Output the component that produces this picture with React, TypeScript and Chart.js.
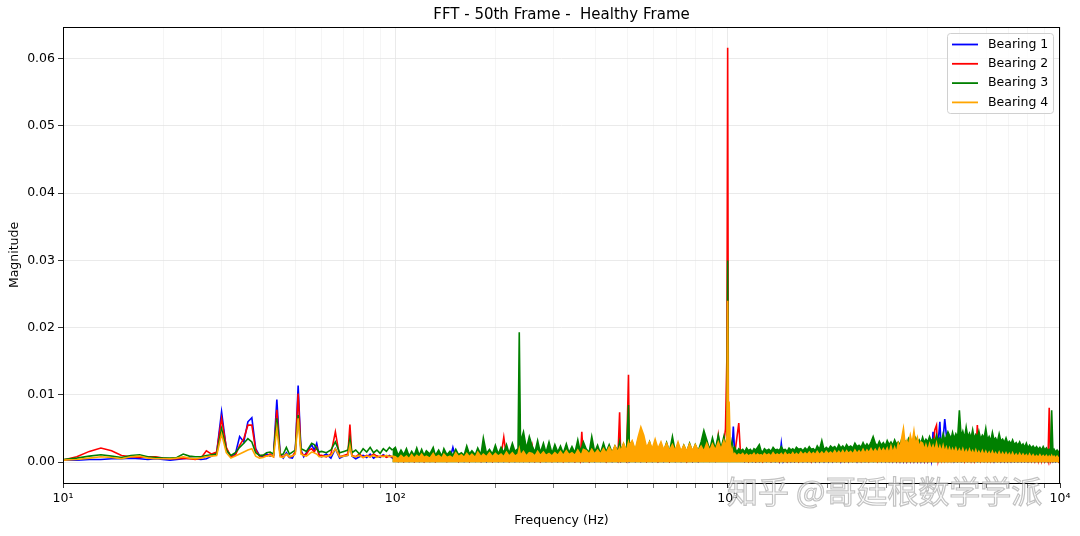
import React, { useEffect, useRef } from 'react';
import Chart from 'chart.js/auto';

// frequency bins (Hz), rows match the value arrays below
const freqHz = [
  // 10 - 100 Hz
  10, 11, 12, 13, 14, 15, 16, 17, 18, 19,
  20, 21, 22, 23, 24, 25, 26, 27, 28, 29,
  30, 31, 32, 33, 34, 35, 36, 37, 38, 39,
  40, 41, 42, 43, 44, 45, 46, 47, 48, 49,
  50, 51, 52, 53, 54, 55, 56, 57, 58, 59,
  60, 62, 64, 66, 68, 70, 72, 73, 74, 76,
  78, 80, 82, 84, 86, 88, 90, 92, 94, 96,
  98,
  // 100 - 1000 Hz
  100, 102, 104, 106, 108, 110, 112, 114, 116, 118,
  120, 122, 124, 127, 130, 132, 135, 138, 140, 143,
  146, 149, 152, 155, 158, 161, 164, 167, 170, 174,
  177, 181, 184, 188, 192, 196, 200, 204, 208, 212,
  216, 220, 225, 229, 234, 236, 238, 243, 248, 253,
  258, 263, 268, 273, 279, 284, 290, 296, 302, 308,
  314, 320, 327, 333, 340, 347, 354, 360, 364, 368,
  375, 383, 390, 398, 406, 414, 423, 431, 440, 449,
  458, 467, 473, 477, 486, 496, 503, 506, 516, 527,
  537, 548, 559, 570, 582, 593, 605, 617, 630, 642,
  655, 668, 682, 695, 709, 724, 738, 753, 768, 784,
  799, 815, 832, 848, 865, 883, 900, 918, 937, 955,
  974, 985, 995, 1000, 1005,
  // 1 - 10 kHz
  1010, 1020, 1030, 1040, 1050, 1065, 1080, 1095, 1110, 1125,
  1140, 1155, 1170, 1185, 1200, 1215, 1230, 1245, 1260, 1275,
  1290, 1310, 1330, 1350, 1370, 1390, 1410, 1430, 1450, 1470,
  1490, 1510, 1530, 1550, 1570, 1590, 1610, 1635, 1660, 1685,
  1710, 1735, 1760, 1785, 1810, 1835, 1860, 1890, 1920, 1950,
  1980, 2010, 2040, 2070, 2100, 2130, 2160, 2190, 2220, 2250,
  2280, 2310, 2345, 2380, 2415, 2450, 2485, 2520, 2555, 2590,
  2625, 2660, 2700, 2740, 2780, 2820, 2860, 2900, 2940, 2980,
  3020, 3060, 3100, 3140, 3180, 3220, 3260, 3300, 3340, 3380,
  3420, 3460, 3500, 3545, 3590, 3635, 3680, 3725, 3770, 3815,
  3860, 3905, 3950, 4000, 4050, 4100, 4150, 4200, 4250, 4300,
  4350, 4400, 4450, 4500, 4550, 4600, 4650, 4700, 4750, 4800,
  4860, 4920, 4980, 5040, 5100, 5160, 5220, 5280, 5340, 5400,
  5460, 5520, 5580, 5640, 5700, 5770, 5840, 5910, 5980, 6050,
  6120, 6190, 6260, 6330, 6400, 6480, 6560, 6640, 6720, 6800,
  6880, 6960, 7040, 7120, 7200, 7290, 7380, 7470, 7560, 7650,
  7740, 7830, 7920, 8010, 8100, 8200, 8300, 8400, 8500, 8600,
  8700, 8800, 8900, 9000, 9100, 9200, 9280, 9360, 9440, 9520,
  9600, 9700, 9800, 9900, 10000,
];

// magnitudes, in units of 1e-4
const bearing1 = [
  3, 3, 4, 4, 5, 5, 6, 5, 4, 5,
  4, 3, 4, 5, 6, 5, 4, 5, 9, 14,
  75, 20, 8, 12, 38, 30, 60, 66, 20, 10,
  8, 12, 9, 10, 93, 12, 6, 14, 7, 6,
  15, 114, 18, 8, 14, 20, 26, 18, 28, 10,
  8, 12, 6, 20, 6, 9, 10, 30, 9, 5,
  8, 10, 7, 12, 6, 9, 7, 11, 8, 10,
  6,
  4, 1, 5, 1, 6, 1, 5, 1, 6, 1,
  5, 1, 6, 1, 5, 1, 5, 2, 6, 1,
  5, 22, 6, 1, 5, 1, 6, 1, 5, 1,
  6, 1, 7, 1, 15, 1, 6, 1, 5, 1,
  6, 1, 5, 1, 6, 2, 5, 1, 6, 1,
  5, 1, 6, 1, 5, 1, 6, 1, 5, 1,
  6, 1, 5, 1, 6, 1, 5, 1, 6, 1,
  5, 1, 6, 1, 5, 1, 6, 1, 5, 1,
  6, 1, 5, 1, 6, 1, 10, 1, 5, 1,
  6, 1, 5, 1, 6, 1, 5, 1, 6, 1,
  5, 1, 6, 1, 7, 1, 6, 1, 8, 1,
  7, 1, 8, 2, 9, 2, 10, 2, 12, 3,
  15, 18, 30, 50, 40,
  20, 10, 15, 53, 12, 8, 7, 2, 6, 1,
  6, 1, 5, 1, 7, 1, 6, 1, 5, 1,
  6, 1, 5, 1, 7, 1, 6, 1, 28, 1,
  6, 1, 7, 1, 6, 1, 7, 1, 8, 1,
  7, 1, 8, 1, 7, 1, 8, 1, 9, 1,
  8, 1, 9, 1, 8, 2, 9, 1, 10, 2,
  9, 1, 10, 2, 9, 1, 10, 2, 11, 2,
  10, 2, 11, 2, 10, 2, 11, 2, 12, 2,
  11, 2, 12, 2, 11, 2, 12, 2, 13, 2,
  12, 2, 13, 2, 12, 2, 13, 2, 12, 2,
  13, 2, 12, 2, 14, 2, 45, 10, 12, 30,
  60, 12, 35, 64, 40, 12, 40, 10, 12, 2,
  10, 2, 9, 2, 10, 2, 9, 2, 8, 2,
  9, 2, 8, 2, 9, 2, 8, 2, 7, 2,
  8, 2, 7, 1, 8, 2, 7, 1, 7, 1,
  7, 1, 6, 1, 7, 1, 6, 1, 6, 1,
  6, 1, 6, 1, 5, 1, 6, 1, 5, 1,
  5, 1, 6, 1, 5, 1, 5, 1, 5, 1,
  5, 1, 5, 1, 5,
];

const bearing2 = [
  3, 8, 16, 21, 17, 10, 8, 7, 8, 8,
  6, 5, 5, 6, 5, 4, 6, 17, 12, 15,
  65, 22, 8, 10, 25, 35, 55, 55, 18, 9,
  10, 9, 12, 8, 78, 10, 8, 12, 8, 9,
  15, 102, 15, 10, 12, 18, 20, 15, 22, 10,
  10, 8, 12, 45, 8, 10, 12, 56, 10, 8,
  12, 7, 10, 8, 12, 9, 8, 10, 7, 9,
  8,
  6, 1, 8, 1, 7, 2, 9, 1, 8, 2,
  7, 1, 8, 2, 18, 1, 7, 2, 9, 1,
  6, 2, 9, 1, 8, 2, 7, 1, 9, 2,
  6, 1, 8, 2, 7, 1, 9, 2, 10, 37,
  7, 1, 10, 2, 8, 3, 9, 2, 12, 3,
  25, 2, 10, 1, 9, 2, 8, 1, 9, 2,
  10, 1, 9, 2, 8, 1, 10, 2, 45, 3,
  9, 1, 10, 2, 8, 2, 11, 1, 10, 2,
  9, 2, 74, 3, 10, 2, 130, 12, 9, 2,
  11, 2, 10, 1, 9, 2, 10, 1, 8, 2,
  10, 1, 9, 2, 11, 2, 10, 1, 12, 2,
  11, 2, 12, 3, 14, 3, 16, 4, 40, 8,
  30, 49, 160, 616, 45,
  30, 14, 18, 20, 12, 35, 58, 6, 9, 2,
  7, 1, 6, 2, 7, 1, 6, 2, 7, 1,
  6, 2, 7, 1, 8, 2, 7, 1, 8, 2,
  8, 1, 8, 2, 8, 2, 9, 1, 9, 2,
  9, 2, 9, 1, 9, 2, 10, 2, 9, 2,
  10, 2, 9, 2, 10, 2, 10, 2, 11, 2,
  11, 2, 10, 2, 11, 2, 11, 2, 12, 3,
  12, 2, 12, 3, 12, 2, 13, 3, 12, 3,
  14, 3, 13, 3, 15, 3, 15, 3, 14, 3,
  15, 3, 14, 3, 16, 3, 15, 3, 14, 3,
  15, 3, 16, 3, 15, 3, 14, 48, 55, 3,
  15, 3, 14, 3, 13, 3, 13, 3, 13, 3,
  13, 3, 12, 3, 13, 2, 12, 3, 12, 2,
  11, 2, 12, 55, 11, 2, 11, 2, 10, 2,
  10, 2, 11, 2, 9, 2, 10, 2, 9, 2,
  9, 2, 9, 2, 9, 2, 8, 2, 9, 2,
  8, 2, 9, 2, 10, 2, 12, 2, 14, 2,
  16, 2, 14, 2, 10, 2, 81, 2, 8, 2,
  7, 2, 6, 1, 6,
];

const bearing3 = [
  4, 6, 9, 11, 9, 7, 10, 11, 8, 7,
  6, 6, 7, 12, 9, 8, 8, 10, 11, 12,
  50, 18, 10, 14, 22, 28, 35, 30, 14, 10,
  10, 14, 15, 12, 65, 11, 12, 22, 12, 15,
  18, 70, 20, 18, 16, 22, 28, 26, 20, 15,
  16, 14, 18, 30, 14, 16, 18, 35, 14, 18,
  12, 20, 15, 22, 14, 18, 13, 20, 16, 22,
  18,
  22, 10, 18, 11, 20, 9, 16, 10, 21, 10,
  19, 10, 17, 12, 22, 10, 18, 9, 20, 11,
  16, 10, 19, 11, 14, 10, 24, 12, 17, 11,
  21, 11, 36, 13, 19, 12, 25, 12, 22, 14,
  26, 13, 28, 16, 20, 193, 30, 45, 20, 38,
  24, 15, 32, 14, 28, 14, 30, 13, 26, 15,
  24, 13, 27, 14, 23, 14, 33, 16, 22, 30,
  20, 14, 38, 15, 25, 13, 28, 15, 26, 14,
  24, 16, 30, 17, 27, 15, 85, 26, 30, 16,
  32, 20, 28, 16, 30, 15, 26, 14, 27, 16,
  29, 15, 38, 16, 27, 14, 25, 15, 28, 15,
  26, 16, 30, 47, 33, 18, 36, 19, 40, 20,
  38, 24, 35, 300, 33,
  24, 16, 30, 17, 22, 15, 20, 17, 19, 15,
  21, 17, 19, 15, 20, 18, 22, 26, 17, 15,
  20, 17, 19, 16, 22, 18, 19, 17, 23, 18,
  19, 16, 21, 18, 20, 17, 22, 19, 20, 17,
  21, 18, 23, 19, 20, 17, 24, 19, 32, 18,
  22, 19, 24, 21, 23, 19, 26, 21, 24, 20,
  26, 22, 24, 21, 28, 23, 25, 22, 29, 23,
  27, 23, 30, 38, 28, 24, 31, 25, 29, 24,
  32, 26, 30, 25, 33, 27, 30, 26, 34, 27,
  31, 27, 35, 28, 32, 27, 36, 29, 33, 28,
  37, 29, 34, 30, 38, 31, 35, 30, 40, 32,
  36, 31, 42, 33, 38, 45, 40, 34, 44, 35,
  42, 36, 77, 38, 46, 35, 52, 37, 43, 36,
  48, 35, 41, 37, 46, 34, 40, 36, 50, 33,
  38, 31, 44, 33, 36, 30, 42, 31, 34, 29,
  36, 28, 31, 27, 33, 26, 29, 25, 30, 24,
  27, 22, 28, 21, 25, 21, 24, 20, 23, 19,
  22, 18, 23, 18, 21, 17, 19, 17, 77, 16,
  19, 15, 18, 15, 17,
];

const bearing4 = [
  3, 4, 6, 8, 7, 5, 8, 9, 6, 5,
  5, 5, 6, 8, 6, 5, 6, 8, 9, 10,
  42, 14, 6, 9, 12, 15, 18, 20, 9, 6,
  7, 9, 10, 8, 50, 8, 7, 12, 8, 9,
  12, 65, 12, 10, 9, 12, 15, 14, 12, 8,
  8, 9, 10, 20, 8, 9, 10, 25, 9, 8,
  10, 7, 9, 8, 10, 7, 9, 8, 10, 8,
  9,
  8, 5, 10, 6, 9, 5, 11, 6, 10, 7,
  12, 7, 9, 6, 13, 7, 10, 6, 12, 7,
  9, 6, 14, 8, 11, 7, 13, 8, 12, 7,
  15, 8, 12, 8, 14, 8, 13, 9, 12, 8,
  15, 9, 14, 9, 12, 20, 10, 16, 9, 14,
  13, 9, 16, 10, 15, 10, 13, 9, 14, 10,
  16, 10, 17, 11, 14, 10, 18, 12, 12, 19,
  17, 12, 19, 12, 18, 12, 20, 13, 22, 14,
  24, 15, 22, 16, 28, 17, 30, 25, 32, 18,
  36, 52, 40, 22, 30, 20, 34, 20, 30, 18,
  28, 17, 26, 17, 30, 16, 25, 16, 27, 17,
  26, 17, 24, 16, 28, 17, 27, 18, 30, 19,
  32, 22, 40, 240, 35,
  90, 9, 20, 10, 13, 9, 12, 10, 13, 9,
  12, 9, 11, 10, 13, 9, 12, 10, 11, 9,
  13, 10, 12, 9, 14, 10, 12, 10, 13, 9,
  14, 10, 12, 10, 14, 10, 13, 10, 15, 11,
  14, 11, 15, 11, 14, 11, 16, 11, 15, 11,
  16, 12, 15, 12, 17, 12, 16, 12, 17, 12,
  17, 13, 16, 12, 18, 13, 17, 13, 19, 13,
  18, 14, 20, 14, 19, 14, 21, 15, 20, 15,
  21, 13, 24, 14, 22, 14, 28, 20, 36, 50,
  26, 32, 24, 40, 28, 46, 25, 36, 22, 30,
  28, 18, 26, 17, 27, 18, 25, 17, 28, 16,
  24, 15, 25, 15, 22, 14, 21, 14, 20, 14,
  21, 13, 19, 13, 20, 12, 18, 12, 19, 12,
  17, 11, 18, 11, 16, 11, 17, 10, 16, 10,
  15, 10, 16, 10, 14, 9, 15, 9, 14, 9,
  14, 9, 13, 8, 14, 8, 12, 8, 13, 8,
  12, 8, 11, 7, 12, 7, 11, 7, 10, 7,
  11, 7, 10, 7, 10, 6, 9, 6, 10, 6,
  9, 6, 9, 6, 8,
];

const seriesNames = ['Bearing 1', 'Bearing 2', 'Bearing 3', 'Bearing 4'];
const seriesColors = ['#0000ff', '#ff0000', '#008000', '#ffa500'];
const seriesValues = [bearing1, bearing2, bearing3, bearing4];
// dense bands (Bearing 3 and 4) read as solid from this frequency upward
const denseFromHz = 98;
const denseSeries = [false, false, true, true];

const yTicks = [0, 0.01, 0.02, 0.03, 0.04, 0.05, 0.06];
const xTicks = [
  10, 20, 30, 40, 50, 60, 70, 80, 90,
  100, 200, 300, 400, 500, 600, 700, 800, 900,
  1000, 2000, 3000, 4000, 5000, 6000, 7000, 8000, 9000, 10000,
];
const xMajor = [10, 100, 1000, 10000];
const xMajorLabels = ['10¹', '10²', '10³', '10⁴'];

const FONT = '"DejaVu Sans", sans-serif';

const overlayPlugin = {
  id: 'overlay',
  afterDraw(chart: any) {
    const { ctx, chartArea: a } = chart;
    ctx.save();
    // axes frame
    ctx.strokeStyle = '#000';
    ctx.lineWidth = 1;
    ctx.strokeRect(a.left + 0.5, a.top + 0.5, a.right - a.left - 1, a.bottom - a.top);

    // title
    ctx.fillStyle = '#000';
    ctx.font = `15px ${FONT}`;
    ctx.textAlign = 'center';
    ctx.textBaseline = 'middle';
    ctx.fillText('FFT - 50th Frame -  Healthy Frame', (a.left + a.right) / 2, 15);

    // legend
    const bx = 947.5, by = 33.5, bw = 106, bh = 80;
    ctx.beginPath();
    ctx.roundRect(bx, by, bw, bh, 3);
    ctx.fillStyle = 'rgba(255,255,255,0.8)';
    ctx.fill();
    ctx.strokeStyle = '#d0d0d0';
    ctx.stroke();
    ctx.font = `12.5px ${FONT}`;
    ctx.textAlign = 'left';
    seriesNames.forEach((name, i) => {
      const y = 44.5 + i * 19.3;
      ctx.strokeStyle = seriesColors[i];
      ctx.lineWidth = 1.8;
      ctx.beginPath();
      ctx.moveTo(952, y);
      ctx.lineTo(978, y);
      ctx.stroke();
      ctx.fillStyle = '#000';
      ctx.fillText(name, 988, y);
    });

    // watermark
    ctx.font = `31px "Noto Sans CJK SC", sans-serif`;
    ctx.textBaseline = 'middle';
    ctx.fillStyle = 'rgba(255,255,255,0.6)';
    ctx.strokeStyle = 'rgba(120,120,120,0.45)';
    ctx.lineWidth = 1.2;
    ctx.fillText('知乎 @哥廷根数学学派', 727, 491);
    ctx.strokeText('知乎 @哥廷根数学学派', 727, 491);
    ctx.restore();
  },
};

const App: React.FC = () => {
  const canvasRef = useRef<HTMLCanvasElement>(null);
  const chartRef = useRef<Chart | null>(null);

  useEffect(() => {
    if (!canvasRef.current) return;
    if (chartRef.current) chartRef.current.destroy();

    const datasets = seriesValues.map((vals, i) => ({
      label: seriesNames[i],
      data: vals.map((v, k) => ({ x: freqHz[k], y: v * 1e-4 })),
      borderColor: seriesColors[i],
      backgroundColor: seriesColors[i],
      borderWidth: 1.6,
      pointRadius: 0,
      tension: 0,
      fill: denseSeries[i] ? 'origin' : false,
      segment: denseSeries[i]
        ? {
            backgroundColor: (c: any) =>
              freqHz[c.p0DataIndex] >= denseFromHz ? seriesColors[i] : 'rgba(0,0,0,0)',
          }
        : undefined,
      // later bearings drawn on top, as in the original plot
      order: 3 - i,
    }));

    chartRef.current = new Chart(canvasRef.current, {
      type: 'line',
      data: { datasets },
      options: {
        animation: false,
        responsive: false,
        parsing: false as any,
        layout: { padding: { left: 0, right: 20, top: 27, bottom: 0 } },
        plugins: {
          legend: { display: false },
          title: { display: false },
          tooltip: { enabled: false },
        },
        scales: {
          x: {
            type: 'logarithmic',
            min: 10,
            max: 10000,
            afterBuildTicks: (s: any) => {
              s.ticks = xTicks.map((v) => ({ value: v }));
            },
            afterFit: (s: any) => {
              s.height = 53;
            },
            border: { display: false },
            grid: {
              color: (c: any) =>
                xMajor.includes(c.tick?.value) ? '#e4e4e4' : '#f3f3f3',
              tickColor: (c: any) => (xMajor.includes(c.tick?.value) ? '#000' : '#555'),
              tickLength: 5,
              lineWidth: 0.8,
            },
            ticks: {
              autoSkip: false,
              maxRotation: 0,
              padding: 3,
              color: '#000',
              font: { family: FONT, size: 12.5 },
              callback: (v: any) => {
                const k = xMajor.indexOf(Number(v));
                return k >= 0 ? xMajorLabels[k] : '';
              },
            },
            title: {
              display: true,
              text: 'Frequency (Hz)',
              color: '#000',
              font: { family: FONT, size: 12.5 },
              padding: { top: 0, bottom: 8 },
            },
          },
          y: {
            type: 'linear',
            min: -0.0031,
            max: 0.0647,
            afterBuildTicks: (s: any) => {
              s.ticks = yTicks.map((v) => ({ value: v }));
            },
            afterFit: (s: any) => {
              s.width = 63;
            },
            border: { display: false },
            grid: {
              color: '#e4e4e4',
              tickColor: '#000',
              tickLength: 5,
              lineWidth: 0.8,
            },
            ticks: {
              padding: 3,
              color: '#000',
              font: { family: FONT, size: 12.5 },
              callback: (v: any) => Number(v).toFixed(2),
            },
            title: {
              display: true,
              text: 'Magnitude',
              color: '#000',
              font: { family: FONT, size: 12.5 },
              padding: { top: 7, bottom: 0 },
            },
          },
        },
      },
      plugins: [overlayPlugin],
    });

    return () => {
      if (chartRef.current) {
        chartRef.current.destroy();
        chartRef.current = null;
      }
    };
  }, []);

  return (
    <div
      style={{
        position: 'fixed',
        left: 0,
        top: 0,
        width: 1080,
        height: 536,
        background: '#fff',
      }}
    >
      <canvas ref={canvasRef} width={1080} height={536} style={{ display: 'block' }} />
    </div>
  );
};

export default App;
